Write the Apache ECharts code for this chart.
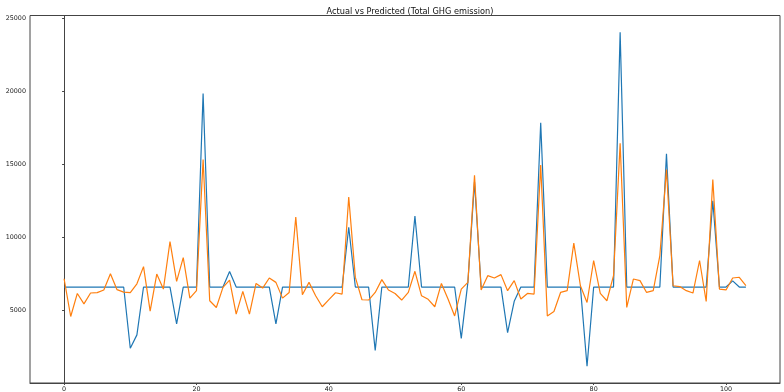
<!DOCTYPE html>
<html>
<head>
<meta charset="utf-8">
<script src="https://cdn.jsdelivr.net/npm/echarts@6/dist/echarts.min.js"></script>
<style>
html,body{margin:0;padding:0;background:#fff;}
#chart{width:784px;height:392px;}
</style>
</head>
<body>
<div id="chart"></div>
<script>
const titleText = 'Actual vs Predicted (Total GHG emission)';
const xTicks = [0, 20, 40, 60, 80, 100];
const yTicks = [5000, 10000, 15000, 20000, 25000];

const actual = [
  6580, 6580, 6580, 6580, 6580, 6580, 6580, 6580, 6580, 6580,
  2380, 3300, 6580, 6580, 6580, 6580, 6580, 4050, 6580, 6580,
  6580, 19850, 6580, 6580, 6580, 7650, 6580, 6580, 6580, 6580,
  6580, 6580, 4060, 6580, 6580, 6580, 6580, 6580, 6580, 6580,
  6580, 6580, 6580, 10680, 6580, 6580, 6580, 2240, 6580, 6580,
  6580, 6580, 6580, 11450, 6580, 6580, 6580, 6580, 6580, 6580,
  3060, 6900, 13800, 6580, 6580, 6580, 6580, 3450, 5600, 6580,
  6580, 6580, 17850, 6580, 6580, 6580, 6580, 6580, 6580, 1150,
  6580, 6580, 6580, 6580, 24050, 6580, 6580, 6580, 6580, 6580,
  6580, 15720, 6580, 6580, 6580, 6580, 6580, 6580, 12500, 6580,
  6580, 7000, 6580, 6580
];

const predicted = [
  7150, 4560, 6140, 5430, 6170, 6200, 6380, 7490, 6400, 6230,
  6200, 6800, 7980, 4930, 7470, 6440, 9700, 6970, 8600, 5820,
  6330, 15330, 5640, 5180, 6560, 7050, 4720, 6280, 4720, 6830,
  6510, 7200, 6900, 5820, 6210, 11380, 6050, 6900, 5980, 5230,
  5720, 6190, 6100, 12750, 7240, 5710, 5690, 6210, 7090, 6380,
  6140, 5690, 6210, 7660, 5980, 5740, 5230, 6830, 5760, 4600,
  6440, 6900, 14250, 6380, 7360, 7200, 7430, 6330, 7020, 5760,
  6140, 6100, 14940, 4600, 4900, 6210, 6330, 9590, 6670, 5520,
  8400, 6140, 5640, 7360, 16430, 5180, 7130, 7020, 6210, 6330,
  8740, 14640, 6670, 6610, 6330, 6170, 8400, 5590, 13950, 6440,
  6380, 7200, 7250, 6670
];

const pairs = arr => arr.map((v, i) => [i, v]);

const chart = echarts.init(document.getElementById('chart'), null, {renderer: 'canvas'});
const labelFont = {fontFamily: 'DejaVu Sans', fontSize: 6.4, color: '#222'};
chart.setOption({
  animation: false,
  backgroundColor: '#ffffff',
  title: {
    text: titleText,
    left: 405,
    top: 3,
    textAlign: 'center',
    textStyle: {fontFamily: 'DejaVu Sans', fontSize: 8.2, fontWeight: 'normal', color: '#111'}
  },
  grid: {
    left: 30, right: 4, top: 15.5, bottom: 9,
    show: true, borderColor: '#444', borderWidth: 1, backgroundColor: 'transparent'
  },
  xAxis: {
    type: 'value',
    min: -5.15, max: 108.15,
    splitLine: {show: false},
    axisLine: {show: true, lineStyle: {color: '#444', width: 1}},
    axisTick: {show: true, length: 2, customValues: xTicks, lineStyle: {color: '#444'}},
    axisLabel: Object.assign({margin: 3, customValues: xTicks, formatter: v => String(v)}, labelFont)
  },
  yAxis: {
    type: 'value',
    min: 0, max: 25200,
    splitLine: {show: false},
    axisLine: {show: true, lineStyle: {color: '#444', width: 1}},
    axisTick: {show: true, length: 2, customValues: yTicks, lineStyle: {color: '#444'}},
    axisLabel: Object.assign({margin: 4, customValues: yTicks, formatter: v => String(v)}, labelFont)
  },
  series: [
    {
      name: 'Actual', type: 'line', data: pairs(actual), showSymbol: false,
      lineStyle: {color: '#1f77b4', width: 1.2}, itemStyle: {color: '#1f77b4'}, z: 2
    },
    {
      name: 'Predicted', type: 'line', data: pairs(predicted), showSymbol: false,
      lineStyle: {color: '#ff7f0e', width: 1.2}, itemStyle: {color: '#ff7f0e'}, z: 3
    }
  ]
});
</script>
</body>
</html>
